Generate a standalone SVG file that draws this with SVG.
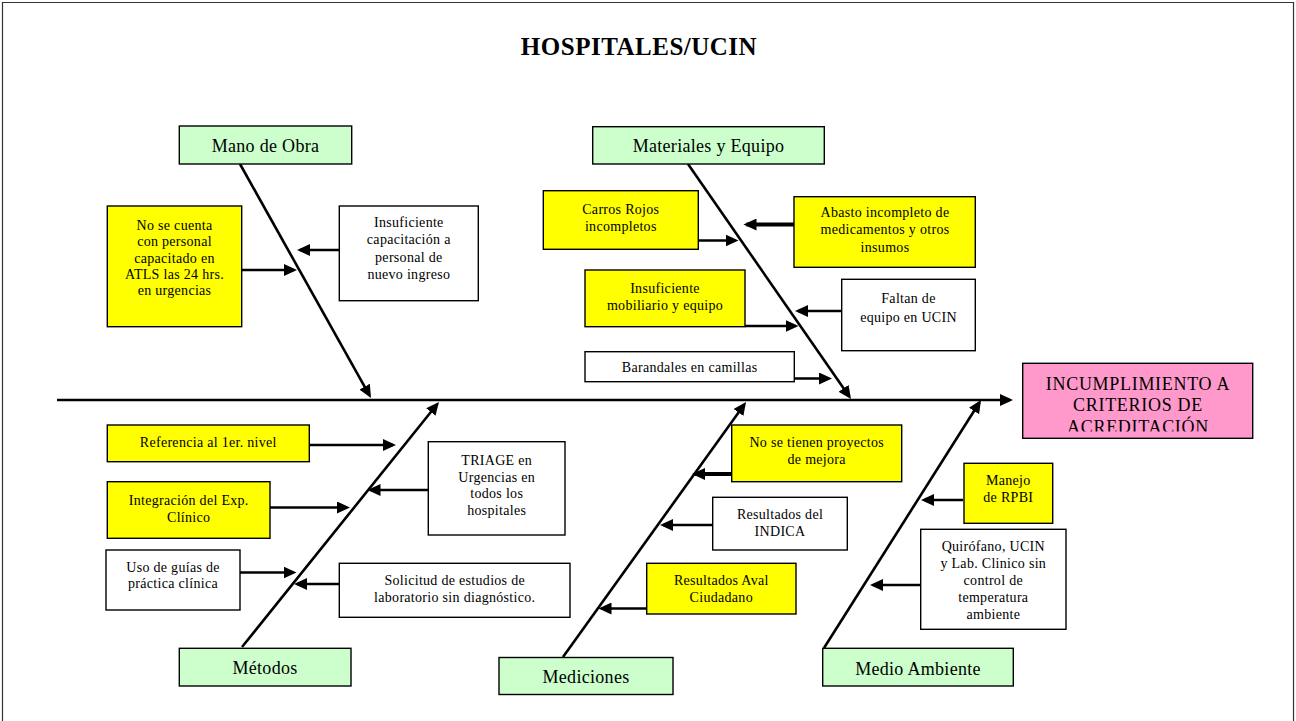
<svg xmlns="http://www.w3.org/2000/svg" width="1296" height="721" viewBox="0 0 1296 721">
<style>
text{font-family:"Liberation Serif","Times New Roman",serif;fill:#000;text-anchor:middle}
.c{font-size:14px;letter-spacing:0.3px}
.cat{font-size:18px;letter-spacing:0.3px}
.box{stroke:#000;stroke-width:1.4}
.y{fill:#FFFF00}
.w{fill:#FFFFFF}
.g{fill:#CCFFCC}
.bone{stroke:#000;stroke-width:2.6;fill:none;marker-end:url(#ah)}
.arr{stroke:#000;stroke-width:2.4;fill:none;marker-end:url(#ah)}
.arrb{stroke:#000;stroke-width:4;fill:none;marker-end:url(#ah)}
</style>
<defs>
<marker id="ah" markerUnits="userSpaceOnUse" markerWidth="14" markerHeight="12" refX="10" refY="6" orient="auto">
<path d="M0,0 L13,6 L0,12 z" fill="#000"/>
</marker>
<clipPath id="effclip"><rect x="1023" y="364" width="230" height="67.5"/></clipPath>
</defs>
<rect x="0" y="0" width="1296" height="721" fill="#fff"/>
<path d="M2.5,721 V2.5 H1293.5 V721" fill="none" stroke="#333" stroke-width="1.2"/>
<text x="639" y="55" style="font-size:25px;font-weight:bold;letter-spacing:0.5px">HOSPITALES/UCIN</text>

<g id="connectors">
<line class="bone" x1="57" y1="400" x2="1010" y2="400"/>
<line class="bone" x1="240" y1="164" x2="369.5" y2="395.4"/>
<line class="bone" x1="688" y1="164" x2="849.3" y2="396.5"/>
<line class="bone" x1="242" y1="647" x2="437.1" y2="404.3"/>
<line class="bone" x1="563" y1="657" x2="744.3" y2="404.4"/>
<line class="bone" x1="824" y1="648" x2="979.4" y2="402.5"/>
<line class="arr" x1="242" y1="270" x2="294" y2="270"/>
<line class="arr" x1="339" y1="250" x2="300" y2="250"/>
<line class="arr" x1="698" y1="240.5" x2="735.5" y2="240.5"/>
<line class="arrb" x1="794" y1="224.5" x2="746.5" y2="224.5"/>
<line class="arr" x1="745" y1="326" x2="795.5" y2="326"/>
<line class="arr" x1="842" y1="311" x2="798" y2="311"/>
<line class="arr" x1="794" y1="378.5" x2="829" y2="378.5"/>
<line class="arr" x1="310" y1="445" x2="393" y2="445"/>
<line class="arr" x1="270" y1="507.5" x2="347" y2="507.5"/>
<line class="arr" x1="428" y1="490" x2="370.5" y2="490"/>
<line class="arr" x1="240" y1="572.5" x2="293.5" y2="572.5"/>
<line class="arr" x1="340" y1="584" x2="297" y2="584"/>
<line class="arrb" x1="732" y1="474" x2="695" y2="474"/>
<line class="arr" x1="712" y1="525" x2="663" y2="525"/>
<line class="arr" x1="647" y1="608.5" x2="601.5" y2="608.5"/>
<line class="arr" x1="963" y1="500" x2="924" y2="500"/>
<line class="arr" x1="921" y1="585" x2="873" y2="585"/>
</g>

<g id="effect">
<rect class="box" x="1022.7" y="363.3" width="230" height="75" fill="#FF99CC"/>
<g clip-path="url(#effclip)" style="font-size:18px;letter-spacing:0.7px">
<text x="1138" y="390">INCUMPLIMIENTO A</text>
<text x="1138" y="410.8">CRITERIOS DE</text>
<text x="1138" y="432.5">ACREDITACIÓN</text>
</g>
</g>

<g id="cat-mano-obra">
<rect class="box g" x="179.3" y="126" width="172.4" height="38"/>
<text class="cat" x="265.5" y="151.5">Mano de Obra</text>
</g>
<g id="cat-materiales">
<rect class="box g" x="592.7" y="126.7" width="231.6" height="37.3"/>
<text class="cat" x="708.5" y="151.5">Materiales y Equipo</text>
</g>
<g id="cat-metodos">
<rect class="box g" x="179.3" y="648.3" width="171.7" height="37.7"/>
<text class="cat" x="265" y="674">Métodos</text>
</g>
<g id="cat-mediciones">
<rect class="box g" x="499" y="657.5" width="174" height="37"/>
<text class="cat" x="586" y="683">Mediciones</text>
</g>
<g id="cat-medio-ambiente">
<rect class="box g" x="822.7" y="648.3" width="190.6" height="37.7"/>
<text class="cat" x="918" y="675">Medio Ambiente</text>
</g>

<g id="c-atls">
<rect class="box y" x="107.3" y="206" width="134.4" height="120.7"/>
<text class="c" x="174.5" y="230">No se cuenta</text>
<text class="c" x="174.5" y="246.3">con personal</text>
<text class="c" x="174.5" y="262.6">capacitado en</text>
<text class="c" x="174.5" y="278.9">ATLS las 24 hrs.</text>
<text class="c" x="174.5" y="295.2">en urgencias</text>
</g>
<g id="c-capacitacion">
<rect class="box w" x="339.3" y="206" width="139" height="94.7"/>
<text class="c" x="408.8" y="226.7">Insuficiente</text>
<text class="c" x="408.8" y="244.2">capacitación a</text>
<text class="c" x="408.8" y="261.7">personal de</text>
<text class="c" x="408.8" y="279.2">nuevo ingreso</text>
</g>
<g id="c-carros">
<rect class="box y" x="543.3" y="190.7" width="155" height="58.6"/>
<text class="c" x="620.8" y="214">Carros Rojos</text>
<text class="c" x="620.8" y="231">incompletos</text>
</g>
<g id="c-abasto">
<rect class="box y" x="794" y="196.7" width="181.3" height="70.6"/>
<text class="c" x="885" y="216.7">Abasto incompleto de</text>
<text class="c" x="885" y="234">medicamentos y otros</text>
<text class="c" x="885" y="251.5">insumos</text>
</g>
<g id="c-mobiliario">
<rect class="box y" x="585" y="270" width="160" height="56.7"/>
<text class="c" x="665" y="293.3">Insuficiente</text>
<text class="c" x="665" y="310">mobiliario y equipo</text>
</g>
<g id="c-faltan">
<rect class="box w" x="841.7" y="279.3" width="133.6" height="71.4"/>
<text class="c" x="908.5" y="302.7">Faltan  de</text>
<text class="c" x="908.5" y="321.5">equipo en UCIN</text>
</g>
<g id="c-barandales">
<rect class="box w" x="585" y="351.7" width="209.3" height="30"/>
<text class="c" x="689.7" y="371.5">Barandales en camillas</text>
</g>
<g id="c-referencia">
<rect class="box y" x="107.3" y="425" width="202" height="36.7"/>
<text class="c" x="208.3" y="447.3">Referencia al 1er. nivel</text>
</g>
<g id="c-integracion">
<rect class="box y" x="107.3" y="481.7" width="162.7" height="56.6"/>
<text class="c" x="188.7" y="505">Integración del Exp.</text>
<text class="c" x="188.7" y="521.7">Clínico</text>
</g>
<g id="c-triage">
<rect class="box w" x="428.3" y="441.7" width="136.7" height="93.3"/>
<text class="c" x="496.7" y="465">TRIAGE en</text>
<text class="c" x="496.7" y="481.7">Urgencias en</text>
<text class="c" x="496.7" y="498.3">todos los</text>
<text class="c" x="496.7" y="515">hospitales</text>
</g>
<g id="c-guias">
<rect class="box w" x="106" y="550" width="134" height="60"/>
<text class="c" x="173" y="571.7">Uso de guías de</text>
<text class="c" x="173" y="588.3">práctica clínica</text>
</g>
<g id="c-solicitud">
<rect class="box w" x="339.3" y="563.3" width="230.7" height="54"/>
<text class="c" x="454.7" y="585">Solicitud de estudios de</text>
<text class="c" x="454.7" y="601.7">laboratorio sin diagnóstico.</text>
</g>
<g id="c-proyectos">
<rect class="box y" x="731.7" y="425" width="170" height="56.7"/>
<text class="c" x="816.7" y="447.3">No se tienen proyectos</text>
<text class="c" x="816.7" y="464">de mejora</text>
</g>
<g id="c-indica">
<rect class="box w" x="712.7" y="497.3" width="134.6" height="52.7"/>
<text class="c" x="780" y="519.3">Resultados del</text>
<text class="c" x="780" y="536">INDICA</text>
</g>
<g id="c-aval">
<rect class="box y" x="646.7" y="563.3" width="149.3" height="50.7"/>
<text class="c" x="721.3" y="585">Resultados Aval</text>
<text class="c" x="721.3" y="601.7">Ciudadano</text>
</g>
<g id="c-rpbi">
<rect class="box y" x="964" y="463.3" width="88.7" height="60"/>
<text class="c" x="1008.3" y="485">Manejo</text>
<text class="c" x="1008.3" y="501.7">de RPBI</text>
</g>
<g id="c-quirofano">
<rect class="box w" x="920.7" y="529.3" width="145.3" height="100"/>
<text class="c" x="993.3" y="551">Quirófano, UCIN</text>
<text class="c" x="993.3" y="568">y Lab. Clinico sin</text>
<text class="c" x="993.3" y="585">control de</text>
<text class="c" x="993.3" y="602">temperatura</text>
<text class="c" x="993.3" y="619">ambiente</text>
</g>
</svg>
